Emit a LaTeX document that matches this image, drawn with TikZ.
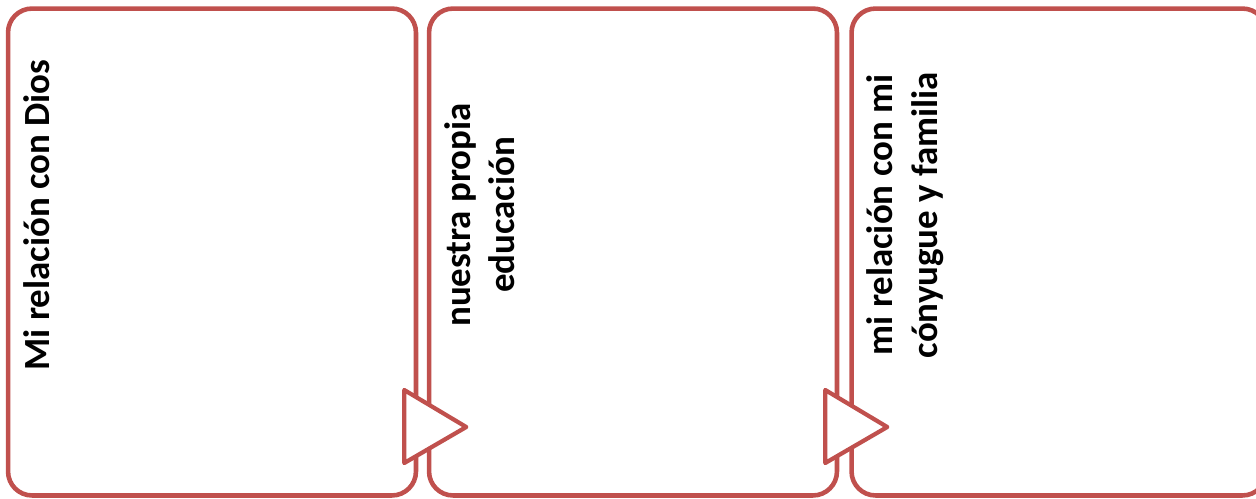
\documentclass[tikz,border=0pt]{standalone}
\usepackage{fontspec}
\setmainfont{Carlito}
\usetikzlibrary{calc}
\definecolor{boxred}{HTML}{C0504D}
\tikzset{
  panel/.style={draw=boxred, line width=2.6pt, fill=white, rounded corners=0.48cm,
    minimum width=8.16cm, minimum height=9.74cm, inner sep=0pt},
  label/.style={rotate=90, anchor=north, align=center, inner sep=0pt,
    font=\fontsize{21}{25.5}\selectfont\bfseries},
  arrowhead/.style={draw=boxred, line width=2.4pt, fill=white, line join=round}
}
\begin{document}
\begin{tikzpicture}[x=0.02cm, y=-0.02cm]
\useasboundingbox (0,0) rectangle (1256,498);
\clip (0,0) rectangle (1256,498);
% three panels
\node[panel] (p1) at (212,252) {};
\node[panel] (p2) at (633,252) {};
\node[panel, minimum width=8.3cm] (p3) at (1059,252) {};
% texts
\node[label] (t1) at ($(p1.west)+(18,-37)$) {Mi relación con Dios};
\node[label] (t2) at ($(p2.west)+(17,-37)$) {nuestra propia\\educación};
\node[label] (t3) at ($(p3.west)+(17,-37)$) {mi relación con mi\\cónyugue y familia};
% arrows between panels
\foreach \a in {p1,p2}
  \draw[arrowhead] ($(\a.east)+(-14,138)$) -- ($(\a.east)+(48,175)$)
    -- ($(\a.east)+(-14,211)$) -- cycle;
\end{tikzpicture}
\end{document}
